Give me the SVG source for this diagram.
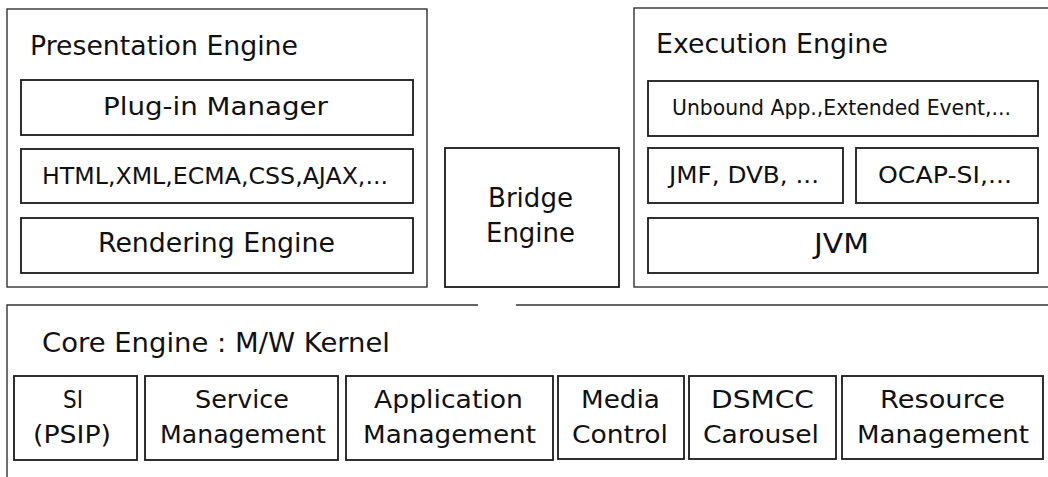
<svg xmlns="http://www.w3.org/2000/svg" width="1048" height="477" viewBox="0 0 1048 477">
<style>
.frame{fill:none;stroke:#333;stroke-width:1.4}
.box{fill:none;stroke:#1a1a1a;stroke-width:1.8}
text{font-family:"DejaVu Sans","Liberation Sans",sans-serif;fill:#111}
.t{font-size:27px}
.b{font-size:25px}
</style>
<rect width="1048" height="477" fill="#fff"/>
<g id="presentation-engine">
<rect class="frame" x="7" y="9" width="420" height="278"/>
<text class="t" x="30" y="55" textLength="268" lengthAdjust="spacingAndGlyphs">Presentation Engine</text>
<rect class="box" x="21" y="80" width="392" height="55"/>
<text class="b" x="103" y="115" textLength="225" lengthAdjust="spacingAndGlyphs">Plug-in Manager</text>
<rect class="box" x="21" y="149" width="392" height="54"/>
<text class="b" x="42" y="184" style="font-size:23.5px" textLength="346" lengthAdjust="spacingAndGlyphs">HTML,XML,ECMA,CSS,AJAX,...</text>
<rect class="box" x="21" y="218" width="392" height="55"/>
<text class="b" x="98" y="252" style="font-size:26px" textLength="237" lengthAdjust="spacingAndGlyphs">Rendering Engine</text>
</g>
<g id="bridge-engine">
<rect class="box" x="445" y="148" width="174" height="139"/>
<text class="b" x="488" y="207" style="font-size:26px" textLength="85" lengthAdjust="spacingAndGlyphs">Bridge</text>
<text class="b" x="486" y="242" style="font-size:26px" textLength="89" lengthAdjust="spacingAndGlyphs">Engine</text>
</g>
<g id="execution-engine">
<rect class="frame" x="634" y="8" width="430" height="279"/>
<text class="t" x="656" y="53" textLength="232" lengthAdjust="spacingAndGlyphs">Execution Engine</text>
<rect class="box" x="648" y="81" width="390" height="55"/>
<text class="b" x="672" y="115" style="font-size:22px" textLength="339" lengthAdjust="spacingAndGlyphs">Unbound App.,Extended Event,...</text>
<rect class="box" x="648" y="148" width="195" height="55"/>
<text class="b" x="669" y="183" style="font-size:23px" textLength="150" lengthAdjust="spacingAndGlyphs">JMF, DVB, ...</text>
<rect class="box" x="856" y="148" width="182" height="55"/>
<text class="b" x="878" y="183" style="font-size:23px" textLength="134" lengthAdjust="spacingAndGlyphs">OCAP-SI,...</text>
<rect class="box" x="648" y="218" width="390" height="55"/>
<text class="b" x="814" y="253" style="font-size:27px" textLength="55" lengthAdjust="spacingAndGlyphs">JVM</text>
</g>
<g id="core-engine">
<path class="frame" d="M1050 305H516M478 305H7V480"/>
<text class="t" x="42" y="352" textLength="348" lengthAdjust="spacingAndGlyphs">Core Engine : M/W Kernel</text>
</g>
<g id="si-psip">
<rect class="box" x="14" y="376" width="123" height="84"/>
<text class="b" x="63" y="408" textLength="20" lengthAdjust="spacingAndGlyphs">SI</text>
<text class="b" x="33" y="443" textLength="78" lengthAdjust="spacingAndGlyphs">(PSIP)</text>
</g>
<g id="service-management">
<rect class="box" x="145" y="376" width="193" height="84"/>
<text class="b" x="195" y="408" textLength="94" lengthAdjust="spacingAndGlyphs">Service</text>
<text class="b" x="160" y="443" textLength="166" lengthAdjust="spacingAndGlyphs">Management</text>
</g>
<g id="application-management">
<rect class="box" x="346" y="376" width="207" height="84"/>
<text class="b" x="374" y="408" textLength="149" lengthAdjust="spacingAndGlyphs">Application</text>
<text class="b" x="363" y="443" textLength="173" lengthAdjust="spacingAndGlyphs">Management</text>
</g>
<g id="media-control">
<rect class="box" x="558" y="376" width="126" height="83"/>
<text class="b" x="581" y="408" textLength="79" lengthAdjust="spacingAndGlyphs">Media</text>
<text class="b" x="572" y="443" textLength="96" lengthAdjust="spacingAndGlyphs">Control</text>
</g>
<g id="dsmcc-carousel">
<rect class="box" x="689" y="376" width="147" height="83"/>
<text class="b" x="711" y="408" textLength="103" lengthAdjust="spacingAndGlyphs">DSMCC</text>
<text class="b" x="703" y="443" textLength="116" lengthAdjust="spacingAndGlyphs">Carousel</text>
</g>
<g id="resource-management">
<rect class="box" x="842" y="376" width="201" height="83"/>
<text class="b" x="880" y="408" textLength="125" lengthAdjust="spacingAndGlyphs">Resource</text>
<text class="b" x="857" y="443" textLength="172" lengthAdjust="spacingAndGlyphs">Management</text>
</g>
<g id="connectors"></g>
</svg>
